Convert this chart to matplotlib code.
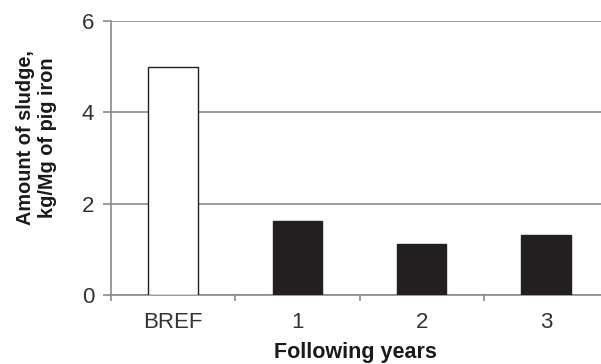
import matplotlib
matplotlib.use("Agg")
import matplotlib.pyplot as plt
import numpy as np

categories = ["BREF", "1", "2", "3"]
values = [5.0, 1.63, 1.11, 1.31]
bar_colors = ["white", "#231f20", "#231f20", "#231f20"]
yticks = [0, 2, 4, 6]

plt.rcParams['font.family'] = ['Liberation Sans', 'DejaVu Sans']

fig = plt.figure(figsize=(6.01, 3.64), dpi=100)
ax = fig.add_axes([0.1847, 0.1896, 0.827, 0.7527])

x = np.arange(len(categories))
ax.bar(x, values, width=0.4, color=bar_colors, edgecolor="#231f20", linewidth=1.0, zorder=3)

ax.set_xlim(-0.5, len(categories) - 0.5)
ax.set_ylim(0, 6)
ax.set_yticks(yticks)
ax.set_yticklabels([str(t) for t in yticks])
ax.yaxis.grid(True, color="#8a8a8a", linewidth=1.2, zorder=0)
ax.set_axisbelow(True)

ax.set_xticks(x)
ax.set_xticklabels(categories)
ax.set_xticks(np.arange(-0.5, len(categories), 1.0), minor=True)
ax.tick_params(axis="x", which="major", length=0, labelsize=16, colors="#333333", pad=12)
ax.tick_params(axis="x", which="minor", length=4.5, width=1.2, color="#8a8a8a")
ax.tick_params(axis="y", length=6, width=1.2, color="#8a8a8a", labelsize=16, labelcolor="#333333", pad=6)

for s in ["top", "right"]:
    ax.spines[s].set_visible(False)
for s in ["left", "bottom"]:
    ax.spines[s].set_color("#8a8a8a")
    ax.spines[s].set_linewidth(1.2)

ax.set_ylabel("Amount of sludge,\nkg/Mg of pig iron", fontsize=14.3, fontweight="bold",
              color="#1a1a1a", linespacing=1.2)
ax.yaxis.set_label_coords(-0.1087, 0.575)
ax.set_xlabel("Following years", fontsize=15.5, fontweight="bold", color="#1a1a1a")
ax.xaxis.set_label_coords(0.5 - 0.5 * 8 / 497, -0.172)

fig.savefig("out.png", dpi=100)
